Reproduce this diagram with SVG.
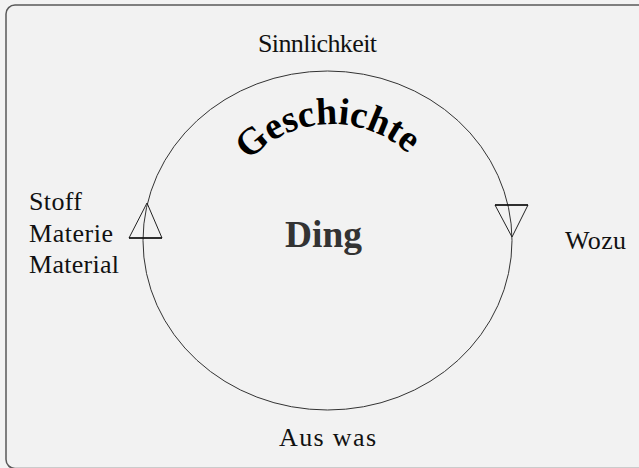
<svg xmlns="http://www.w3.org/2000/svg" xmlns:xlink="http://www.w3.org/1999/xlink" width="639" height="468" viewBox="0 0 639 468">
<style>
.lbl{font-family:"Liberation Serif","Times New Roman",serif;font-size:26px;fill:#111}
.tri{fill:none;stroke:#222;stroke-width:1}
</style>
<defs>
<path id="arc" d="M 226.8 197.7 A 112 112 0 0 1 433.5 188.7"/>
</defs>
<rect x="0" y="0" width="639" height="468" fill="#f3f3f3"/>
<rect x="6" y="5" width="660" height="463.5" rx="9" fill="#f2f2f2" stroke="#5a5a5a" stroke-width="1.5"/>
<g id="connectors">
<ellipse cx="327.5" cy="240.5" rx="184.5" ry="169.5" fill="none" stroke="#333" stroke-width="1"/>
<polygon class="tri" points="147,203 129,238 162,238"/>
<line x1="129" y1="238" x2="162" y2="238" stroke="#111" stroke-width="1.5"/>
<polygon class="tri" points="495,205 528,205 512,237"/>
<line x1="495" y1="205" x2="528" y2="205" stroke="#111" stroke-width="1.5"/>
</g>
<g id="ding"><text x="285" y="247" textLength="77" lengthAdjust="spacingAndGlyphs" style="font-family:'Liberation Serif','Times New Roman',serif;font-size:37px;font-weight:bold;fill:#333">Ding</text></g>
<g id="geschichte"><text style="font-family:'Liberation Serif','Times New Roman',serif;font-size:38px;font-weight:bold;fill:#000"><textPath xlink:href="#arc" href="#arc" startOffset="50%" text-anchor="middle">Geschichte</textPath></text></g>
<g id="sinnlichkeit"><text class="lbl" x="258" y="52" textLength="119">Sinnlichkeit</text></g>
<g id="stoff"><text class="lbl" x="29" y="210" textLength="53">Stoff</text><text class="lbl" x="29" y="242" textLength="84">Materie</text><text class="lbl" x="29" y="273" textLength="90">Material</text></g>
<g id="wozu"><text class="lbl" x="565" y="249" textLength="61">Wozu</text></g>
<g id="auswas"><text class="lbl" x="279" y="446" textLength="97">Aus was</text></g>
</svg>
